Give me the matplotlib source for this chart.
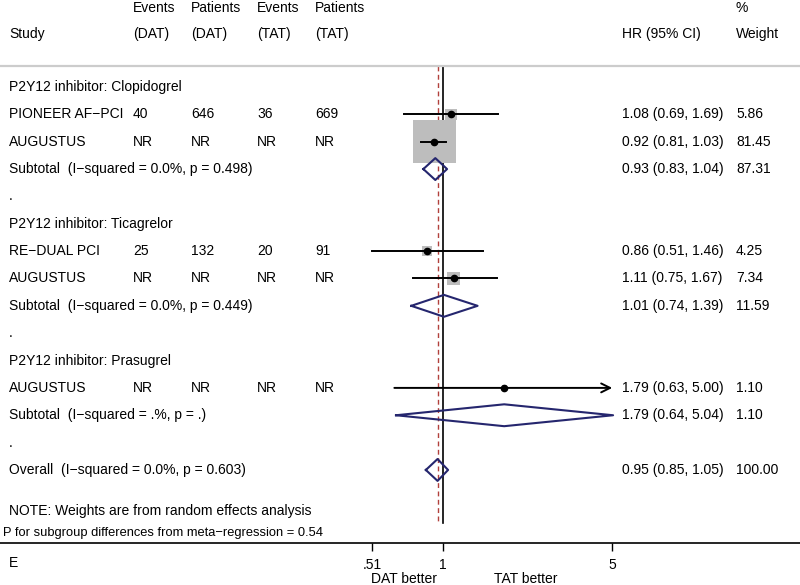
import matplotlib
matplotlib.use("Agg")
import matplotlib.pyplot as plt

plt.rcParams["font.family"] = ["Liberation Sans", "DejaVu Sans"]

# ---------------------------------------------------------------------------
# Data
# ---------------------------------------------------------------------------
groups = ["Clopidogrel", "Ticagrelor", "Prasugrel"]

study_names = ["PIONEER AF\u2212PCI", "AUGUSTUS", "RE\u2212DUAL PCI", "AUGUSTUS", "AUGUSTUS"]
study_group = [0, 0, 1, 1, 2]
events_dat = ["40", "NR", "25", "NR", "NR"]
patients_dat = ["646", "NR", "132", "NR", "NR"]
events_tat = ["36", "NR", "20", "NR", "NR"]
patients_tat = ["669", "NR", "91", "NR", "NR"]
hr = [1.08, 0.92, 0.86, 1.11, 1.79]
ci_lo = [0.69, 0.81, 0.51, 0.75, 0.63]
ci_hi = [1.69, 1.03, 1.46, 1.67, 5.00]
weight = [5.86, 81.45, 4.25, 7.34, 1.10]

sub_hr = [0.93, 1.01, 1.79]
sub_lo = [0.83, 0.74, 0.64]
sub_hi = [1.04, 1.39, 5.04]
sub_weight = [87.31, 11.59, 1.10]
sub_het = ["I\u2212squared = 0.0%, p = 0.498",
           "I\u2212squared = 0.0%, p = 0.449",
           "I\u2212squared = .%, p = ."]

overall_hr, overall_lo, overall_hi, overall_weight = 0.95, 0.85, 1.05, 100.00
overall_het = "I\u2212squared = 0.0%, p = 0.603"

tick_vals = [0.51, 1, 5]
tick_labels = [".51", "1", "5"]
axis_max = 5.0   # CIs reaching this get an arrow

# ---------------------------------------------------------------------------
# Layout helpers
# ---------------------------------------------------------------------------
W, H = 800, 585
NAVY = "#25266e"
RED = "#b2403c"
FS = 10

col_study = 9 / W
col_ev_dat = 133 / W
col_pt_dat = 191 / W
col_ev_tat = 257 / W
col_pt_tat = 315 / W
col_hr = 622 / W
col_w = 736 / W

fig = plt.figure(figsize=(W / 100, H / 100), dpi=100)
ax = fig.add_axes([0, 42 / H, 1, 543 / H])
ax.set_xscale("log")
ax.set_xlim(0.01483, 29.8)
ax.set_ylim(16.67, -3.18)
tr = ax.get_yaxis_transform()


def put(x, y, s, **kw):
    ax.text(x, y, s, transform=tr, fontsize=FS, va="center", ha="left", **kw)


# header
for x, top, bottom in [(col_ev_dat, "Events", "(DAT)"), (col_pt_dat, "Patients", "(DAT)"),
                       (col_ev_tat, "Events", "(TAT)"), (col_pt_tat, "Patients", "(TAT)")]:
    put(x, -2.88, top)
    put(x, -1.94, bottom)
put(col_study, -1.94, "Study")
put(col_hr, -1.94, "HR (95% CI)")
put(col_w, -2.88, "%")
put(col_w, -1.94, "Weight")
ax.axhline(-0.76, color="#cccccc", lw=1.6)

# rows
row = 0
study_rows = [None] * len(hr)
sub_rows = []
for g, gname in enumerate(groups):
    put(col_study, row, f"P2Y12 inhibitor: {gname}")
    row += 1
    for i in range(len(hr)):
        if study_group[i] != g:
            continue
        study_rows[i] = row
        put(col_study, row, study_names[i])
        put(col_ev_dat, row, events_dat[i])
        put(col_pt_dat, row, patients_dat[i])
        put(col_ev_tat, row, events_tat[i])
        put(col_pt_tat, row, patients_tat[i])
        put(col_hr, row, f"{hr[i]:.2f} ({ci_lo[i]:.2f}, {ci_hi[i]:.2f})")
        put(col_w, row, f"{weight[i]:.2f}")
        row += 1
    sub_rows.append(row)
    put(col_study, row, f"Subtotal  ({sub_het[g]})")
    put(col_hr, row, f"{sub_hr[g]:.2f} ({sub_lo[g]:.2f}, {sub_hi[g]:.2f})")
    put(col_w, row, f"{sub_weight[g]:.2f}")
    row += 1
    put(col_study, row, ".")
    row += 1
overall_row = row
put(col_study, overall_row, f"Overall  ({overall_het})")
put(col_hr, overall_row, f"{overall_hr:.2f} ({overall_lo:.2f}, {overall_hi:.2f})")
put(col_w, overall_row, f"{overall_weight:.2f}")

# reference lines
line_top, line_bot = -0.76, overall_row + 1.94
ax.plot([1, 1], [line_top, line_bot], color="black", lw=1.2, zorder=1)
ax.plot([overall_hr, overall_hr], [line_top, line_bot], color=RED, lw=1.0,
        dashes=(3.5, 2.5), zorder=1)

# study boxes, CIs and point estimates
ax.scatter(hr, study_rows, s=[11.8 * w for w in weight], marker="s",
           color="#bdbdbd", linewidths=0, zorder=2)
for i in range(len(hr)):
    r = study_rows[i]
    if ci_hi[i] >= axis_max:
        ax.annotate("", xy=(ci_hi[i], r), xytext=(ci_lo[i], r),
                    arrowprops=dict(arrowstyle="->", lw=1.4, color="black",
                                    shrinkA=0, shrinkB=0, mutation_scale=16),
                    zorder=3)
    else:
        ax.plot([ci_lo[i], ci_hi[i]], [r, r], color="black", lw=1.4, zorder=3)
ax.plot(hr, study_rows, "o", ms=4.5, color="black", zorder=4)

# diamonds
half = 0.40
for c, lo, hi, r in zip(sub_hr + [overall_hr], sub_lo + [overall_lo],
                        sub_hi + [overall_hi], sub_rows + [overall_row]):
    ax.plot([lo, c, hi, c, lo], [r, r - half, r, r + half, r],
            color=NAVY, lw=1.5, zorder=3)

# footnotes
put(col_study, 15.5, "NOTE: Weights are from random effects analysis")
ax.text(3 / W, 16.3, "P for subgroup differences from meta\u2212regression = 0.54",
        transform=tr, fontsize=9.3, va="center", ha="left")

# x axis
for side in ["top", "left", "right"]:
    ax.spines[side].set_visible(False)
ax.spines["bottom"].set_color("black")
ax.spines["bottom"].set_linewidth(1.2)
ax.set_yticks([])
ax.set_xticks(tick_vals)
ax.set_xticklabels(tick_labels)
ax.xaxis.set_minor_locator(matplotlib.ticker.NullLocator())
ax.tick_params(axis="x", direction="out", length=6, width=1, pad=5,
               labelsize=FS, color="black")

fig.text(9 / W, (H - 563) / H, "E", fontsize=FS, va="center", ha="left")
fig.text(404 / W, (H - 579) / H, "DAT better", fontsize=FS, va="center", ha="center")
fig.text(526 / W, (H - 579) / H, "TAT better", fontsize=FS, va="center", ha="center")

fig.savefig("out.png", dpi=100)
